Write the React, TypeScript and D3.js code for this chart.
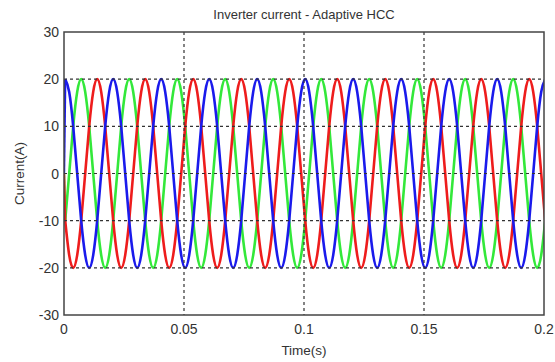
import React, { useEffect, useRef } from 'react';
import * as d3 from 'd3';

// samples every 30 deg (0.02 s / 12), starting at the first blue peak
const T0 = 0.0005;
const STEP = 0.02 / 12;

const blueValues = [
  20, 17.3, 10, 0, -10, -17.3, -20, -17.3, -10, 0, 10, 17.3,
  20, 17.3, 10, 0, -10, -17.3, -20, -17.3, -10, 0, 10, 17.3,
  20, 17.3, 10, 0, -10, -17.3, -20, -17.3, -10, 0, 10, 17.3,
  20, 17.3, 10, 0, -10, -17.3, -20, -17.3, -10, 0, 10, 17.3,
  20, 17.3, 10, 0, -10, -17.3, -20, -17.3, -10, 0, 10, 17.3,
  20, 17.3, 10, 0, -10, -17.3, -20, -17.3, -10, 0, 10, 17.3,
  20, 17.3, 10, 0, -10, -17.3, -20, -17.3, -10, 0, 10, 17.3,
  20, 17.3, 10, 0, -10, -17.3, -20, -17.3, -10, 0, 10, 17.3,
  20, 17.3, 10, 0, -10, -17.3, -20, -17.3, -10, 0, 10, 17.3,
  20, 17.3, 10, 0, -10, -17.3, -20, -17.3, -10, 0, 10, 17.3,
  20,
];
const redValues = [
  -10, -17.3, -20, -17.3, -10, 0, 10, 17.3, 20, 17.3, 10, 0,
  -10, -17.3, -20, -17.3, -10, 0, 10, 17.3, 20, 17.3, 10, 0,
  -10, -17.3, -20, -17.3, -10, 0, 10, 17.3, 20, 17.3, 10, 0,
  -10, -17.3, -20, -17.3, -10, 0, 10, 17.3, 20, 17.3, 10, 0,
  -10, -17.3, -20, -17.3, -10, 0, 10, 17.3, 20, 17.3, 10, 0,
  -10, -17.3, -20, -17.3, -10, 0, 10, 17.3, 20, 17.3, 10, 0,
  -10, -17.3, -20, -17.3, -10, 0, 10, 17.3, 20, 17.3, 10, 0,
  -10, -17.3, -20, -17.3, -10, 0, 10, 17.3, 20, 17.3, 10, 0,
  -10, -17.3, -20, -17.3, -10, 0, 10, 17.3, 20, 17.3, 10, 0,
  -10, -17.3, -20, -17.3, -10, 0, 10, 17.3, 20, 17.3, 10, 0,
  -10,
];
const greenValues = [
  -10, 0, 10, 17.3, 20, 17.3, 10, 0, -10, -17.3, -20, -17.3,
  -10, 0, 10, 17.3, 20, 17.3, 10, 0, -10, -17.3, -20, -17.3,
  -10, 0, 10, 17.3, 20, 17.3, 10, 0, -10, -17.3, -20, -17.3,
  -10, 0, 10, 17.3, 20, 17.3, 10, 0, -10, -17.3, -20, -17.3,
  -10, 0, 10, 17.3, 20, 17.3, 10, 0, -10, -17.3, -20, -17.3,
  -10, 0, 10, 17.3, 20, 17.3, 10, 0, -10, -17.3, -20, -17.3,
  -10, 0, 10, 17.3, 20, 17.3, 10, 0, -10, -17.3, -20, -17.3,
  -10, 0, 10, 17.3, 20, 17.3, 10, 0, -10, -17.3, -20, -17.3,
  -10, 0, 10, 17.3, 20, 17.3, 10, 0, -10, -17.3, -20, -17.3,
  -10, 0, 10, 17.3, 20, 17.3, 10, 0, -10, -17.3, -20, -17.3,
  -10,
];

const xTicks = [0, 0.05, 0.1, 0.15, 0.2];
const xTickLabels = ['0', '0.05', '0.1', '0.15', '0.2'];
const yTicks = [-30, -20, -10, 0, 10, 20, 30];

const series = [
  { name: 'c', values: greenValues, color: '#33e83a' },
  { name: 'b', values: redValues, color: '#ee1c1c' },
  { name: 'a', values: blueValues, color: '#1a1aec' },
];

const W = 555;
const H = 362;
const margin = { top: 32, right: 11, bottom: 47, left: 64 };
const FONT = 'Arial, "Liberation Sans", sans-serif';

export default function App() {
  const svgRef = useRef<SVGSVGElement>(null);

  useEffect(() => {
    if (!svgRef.current) return;
    const svg = d3.select(svgRef.current);
    svg.selectAll('*').remove();

    const x = d3.scaleLinear().domain([0, 0.2]).range([margin.left, W - margin.right]);
    const y = d3.scaleLinear().domain([-30, 30]).range([H - margin.bottom, margin.top]);

    svg.append('rect').attr('width', W).attr('height', H).attr('fill', '#fff');

    svg.append('defs').append('clipPath').attr('id', 'plot-clip')
      .append('rect')
      .attr('x', x(0)).attr('y', y(30))
      .attr('width', x(0.2) - x(0)).attr('height', y(-30) - y(30));

    // curves
    const line = d3.line<[number, number]>()
      .x(d => x(d[0]))
      .y(d => y(d[1]))
      .curve(d3.curveNatural);

    const plot = svg.append('g').attr('clip-path', 'url(#plot-clip)');
    series.forEach(s => {
      const pts: [number, number][] = s.values.map((v, i) => [T0 + i * STEP, v]);
      // start-up from zero
      plot.append('path')
        .attr('d', d3.line<[number, number]>().x(d => x(d[0])).y(d => y(d[1]))([[0, 0], pts[0]]))
        .attr('fill', 'none').attr('stroke', s.color).attr('stroke-width', 2.4);
      plot.append('path')
        .attr('d', line(pts))
        .attr('fill', 'none')
        .attr('stroke', s.color)
        .attr('stroke-width', 2.6);
    });

    // grid (drawn over the curves, like the original)
    const grid = svg.append('g')
      .attr('stroke', '#333')
      .attr('stroke-width', 1.2)
      .attr('stroke-dasharray', '3,3');
    yTicks.filter(t => t > -30 && t < 30).forEach(t => {
      grid.append('line')
        .attr('x1', x(0)).attr('x2', x(0.2))
        .attr('y1', y(t)).attr('y2', y(t));
    });
    xTicks.filter(t => t > 0 && t < 0.2).forEach(t => {
      grid.append('line')
        .attr('x1', x(t)).attr('x2', x(t))
        .attr('y1', y(30)).attr('y2', y(-30));
    });

    // box
    svg.append('rect')
      .attr('x', x(0)).attr('y', y(30))
      .attr('width', x(0.2) - x(0)).attr('height', y(-30) - y(30))
      .attr('fill', 'none').attr('stroke', '#444').attr('stroke-width', 1.5);

    // tick labels
    const text = svg.append('g').attr('font-family', FONT).attr('fill', '#333');
    xTicks.forEach((t, i) => {
      text.append('text')
        .attr('x', x(t)).attr('y', y(-30) + 19)
        .attr('text-anchor', 'middle')
        .attr('font-size', 14)
        .text(xTickLabels[i]);
    });
    yTicks.forEach(t => {
      text.append('text')
        .attr('x', x(0) - 5).attr('y', y(t))
        .attr('dy', '0.36em')
        .attr('text-anchor', 'end')
        .attr('font-size', 14)
        .text(String(t));
    });

    text.append('text')
      .attr('x', (x(0) + x(0.2)) / 2).attr('y', 19)
      .attr('text-anchor', 'middle')
      .attr('font-size', 13)
      .text('Inverter current - Adaptive HCC');

    text.append('text')
      .attr('x', (x(0) + x(0.2)) / 2).attr('y', H - 7)
      .attr('text-anchor', 'middle')
      .attr('font-size', 13.5)
      .text('Time(s)');

    text.append('text')
      .attr('transform', `translate(24,${(y(30) + y(-30)) / 2}) rotate(-90)`)
      .attr('text-anchor', 'middle')
      .attr('font-size', 13.5)
      .text('Current(A)');
  }, []);

  return (
    <svg
      ref={svgRef}
      width={W}
      height={H}
      style={{ position: 'absolute', left: 0, top: 0, display: 'block' }}
    />
  );
}
